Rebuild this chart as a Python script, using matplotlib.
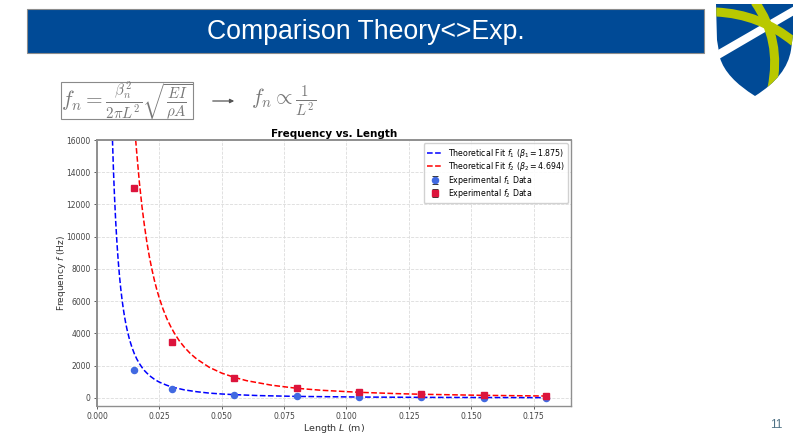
import matplotlib.pyplot as plt
from matplotlib.patches import Rectangle, Polygon, PathPatch
from matplotlib.path import Path

# theoretical curves
L_fit1 = [0.0062, 0.0066, 0.007, 0.0075, 0.008, 0.0085, 0.009, 0.0095, 0.010, 0.0105, 0.011, 0.0115, 0.012, 0.013,
          0.014, 0.015, 0.016, 0.017, 0.018, 0.019, 0.020, 0.0215, 0.023, 0.0245, 0.026, 0.028,
          0.030, 0.035, 0.040, 0.045, 0.050, 0.055, 0.065, 0.080, 0.105, 0.130, 0.155, 0.180]
f_fit1 = [16000, 14120, 12550, 10930, 9610, 8510, 7590, 6810, 6150, 5580, 5080, 4650, 4270, 3640,
          3140, 2730, 2400, 2130, 1900, 1700, 1540, 1330, 1160, 1020, 910, 785,
          680, 500, 385, 300, 245, 205, 145, 96, 56, 36, 26, 19]
L_fit2 = [0.0155, 0.016, 0.017, 0.018, 0.019, 0.020, 0.021, 0.022, 0.023, 0.024, 0.025, 0.0265, 0.028, 0.0295,
          0.031, 0.033, 0.035, 0.0375, 0.040, 0.045, 0.050,
          0.055, 0.060, 0.070, 0.080, 0.090, 0.105, 0.120, 0.130, 0.155, 0.180]
f_fit2 = [16000, 15080, 13350, 11910, 10700, 9650, 8750, 7980, 7300, 6700, 6180, 5500, 4920, 4440,
          4020, 3540, 3150, 2740, 2410, 1900, 1540,
          1280, 1070, 790, 600, 475, 350, 268, 228, 161, 119]

# measurements
L_exp = [0.015, 0.030, 0.055, 0.080, 0.105, 0.130, 0.155, 0.180]
f1_exp = [1720, 580, 200, 100, 60, 30, 25, 20]
f2_exp = [13000, 3480, 1230, 630, 350, 220, 160, 110]
f1_err = [40, 30, 20, 20, 20, 20, 20, 20]
f2_err = [60, 40, 30, 30, 30, 30, 30, 30]

W, H = 800, 448
fig = plt.figure(figsize=(8, 4.48), dpi=100)
plt.rcParams['mathtext.fontset'] = 'dejavusans'

# slide furniture, drawn in pixel coordinates
bg = fig.add_axes([0, 0, 1, 1])
bg.set_xlim(0, W)
bg.set_ylim(H, 0)
bg.axis('off')

navy = '#004a96'
lime = '#b9c800'
bg.add_patch(Rectangle((27, 9), 677, 44, fc=navy, ec='#8c8c8c', lw=0.8))
bg.text(366, 32, 'Comparison Theory<>Exp.', color='white', fontsize=19.2,
        family='Liberation Sans', ha='center', va='center')
bg.text(776, 424.5, '11', color='#4f7285', fontsize=8.5, family='Liberation Sans',
        ha='center', va='center')

# shield
shield = Path([(716, 4), (793, 4), (793, 35), (791, 50), (787, 76), (755, 96), (726, 78), (720, 58), (717, 40), (716, 4)],
              [Path.MOVETO, Path.LINETO, Path.LINETO, Path.LINETO, Path.CURVE3, Path.CURVE3,
               Path.CURVE3, Path.CURVE3, Path.LINETO, Path.CLOSEPOLY])
shield_patch = PathPatch(shield, fc=navy, ec='none')
bg.add_patch(shield_patch)
bg.add_patch(Polygon([(718, 50), (796, 5), (796, 14), (719, 59)], fc='white', ec='none'))
arc1 = Path([(716, 12), (760, 14), (794, 42)], [Path.MOVETO, Path.CURVE3, Path.CURVE3])
arc2 = Path([(755, 2), (782, 40), (772, 88)], [Path.MOVETO, Path.CURVE3, Path.CURVE3])
for arc in (arc1, arc2):
    p = PathPatch(arc, fc='none', ec=lime, lw=6.5, capstyle='butt')
    bg.add_patch(p)
    p.set_clip_path(shield_patch)

# beam formula
ink = '#777777'
bg.add_patch(Rectangle((60.5, 82.5), 132.5, 37, fc='white', ec='#8a8a8a', lw=0.8))
bg.text(61, 101.5, r'$f_n=\frac{\beta_n^2}{2\pi L^2}\sqrt{\frac{EI}{\rho A}}$', color=ink,
        fontsize=15.4, math_fontfamily='cm', ha='left', va='center')
bg.annotate('', xy=(237, 101), xytext=(210, 101),
            arrowprops=dict(arrowstyle='-|>', color='#555555', lw=0.9, mutation_scale=6))
bg.text(251, 101.5, r'$f_n\propto\frac{1}{L^2}$', color=ink, fontsize=15.4,
        math_fontfamily='cm', ha='left', va='center')

# frequency plot
ax = fig.add_axes([97 / W, 1 - 406 / H, (571 - 97) / W, (406 - 140) / H])
ax.plot(L_fit1, f_fit1, color='blue', ls='--', lw=1.1, label=r'Theoretical Fit $f_1$ ($\beta_1 = 1.875$)')
ax.plot(L_fit2, f_fit2, color='red', ls='--', lw=1.1, label=r'Theoretical Fit $f_2$ ($\beta_2 = 4.694$)')
ax.errorbar(L_exp, f1_exp, yerr=f1_err, fmt='o', color='royalblue', ecolor='#333333', ms=4.4,
            elinewidth=0.7, capsize=2, capthick=0.7, label=r'Experimental $f_1$ Data')
ax.errorbar(L_exp, f2_exp, yerr=f2_err, fmt='s', color='crimson', ecolor='#333333', ms=4.4,
            elinewidth=0.7, capsize=2, capthick=0.7, label=r'Experimental $f_2$ Data')

ax.set_xlim(0, 0.19)
ax.set_ylim(-500, 16000)
ax.set_xticks([0, 0.025, 0.05, 0.075, 0.1, 0.125, 0.15, 0.175])
ax.set_xticklabels(['0.000', '0.025', '0.050', '0.075', '0.100', '0.125', '0.150', '0.175'])
ax.set_yticks(range(0, 16001, 2000))
ax.grid(True, ls='--', lw=0.6, color='#dcdcdc')
ax.tick_params(labelsize=5.5, length=2.5, width=0.6, pad=2, colors='#444444')
for spine in ax.spines.values():
    spine.set_color('#8f8f8f')
    spine.set_linewidth(1.0)
ax.spines['top'].set_linewidth(1.4)
ax.spines['left'].set_linewidth(1.4)
ax.set_title('Frequency vs. Length', fontsize=7.45, fontweight='bold', pad=2.5)
ax.set_xlabel(r'Length $L$ (m)', fontsize=6.8, labelpad=0.5, color='#333333')
ax.set_ylabel(r'Frequency $f$ (Hz)', fontsize=6.5, labelpad=-1, color='#333333')
ax.legend(loc='upper right', fontsize=5.7, framealpha=0.9, borderpad=0.45, labelspacing=0.05,
          handletextpad=0.6, borderaxespad=0.4)

fig.savefig('out.png', dpi=100)
